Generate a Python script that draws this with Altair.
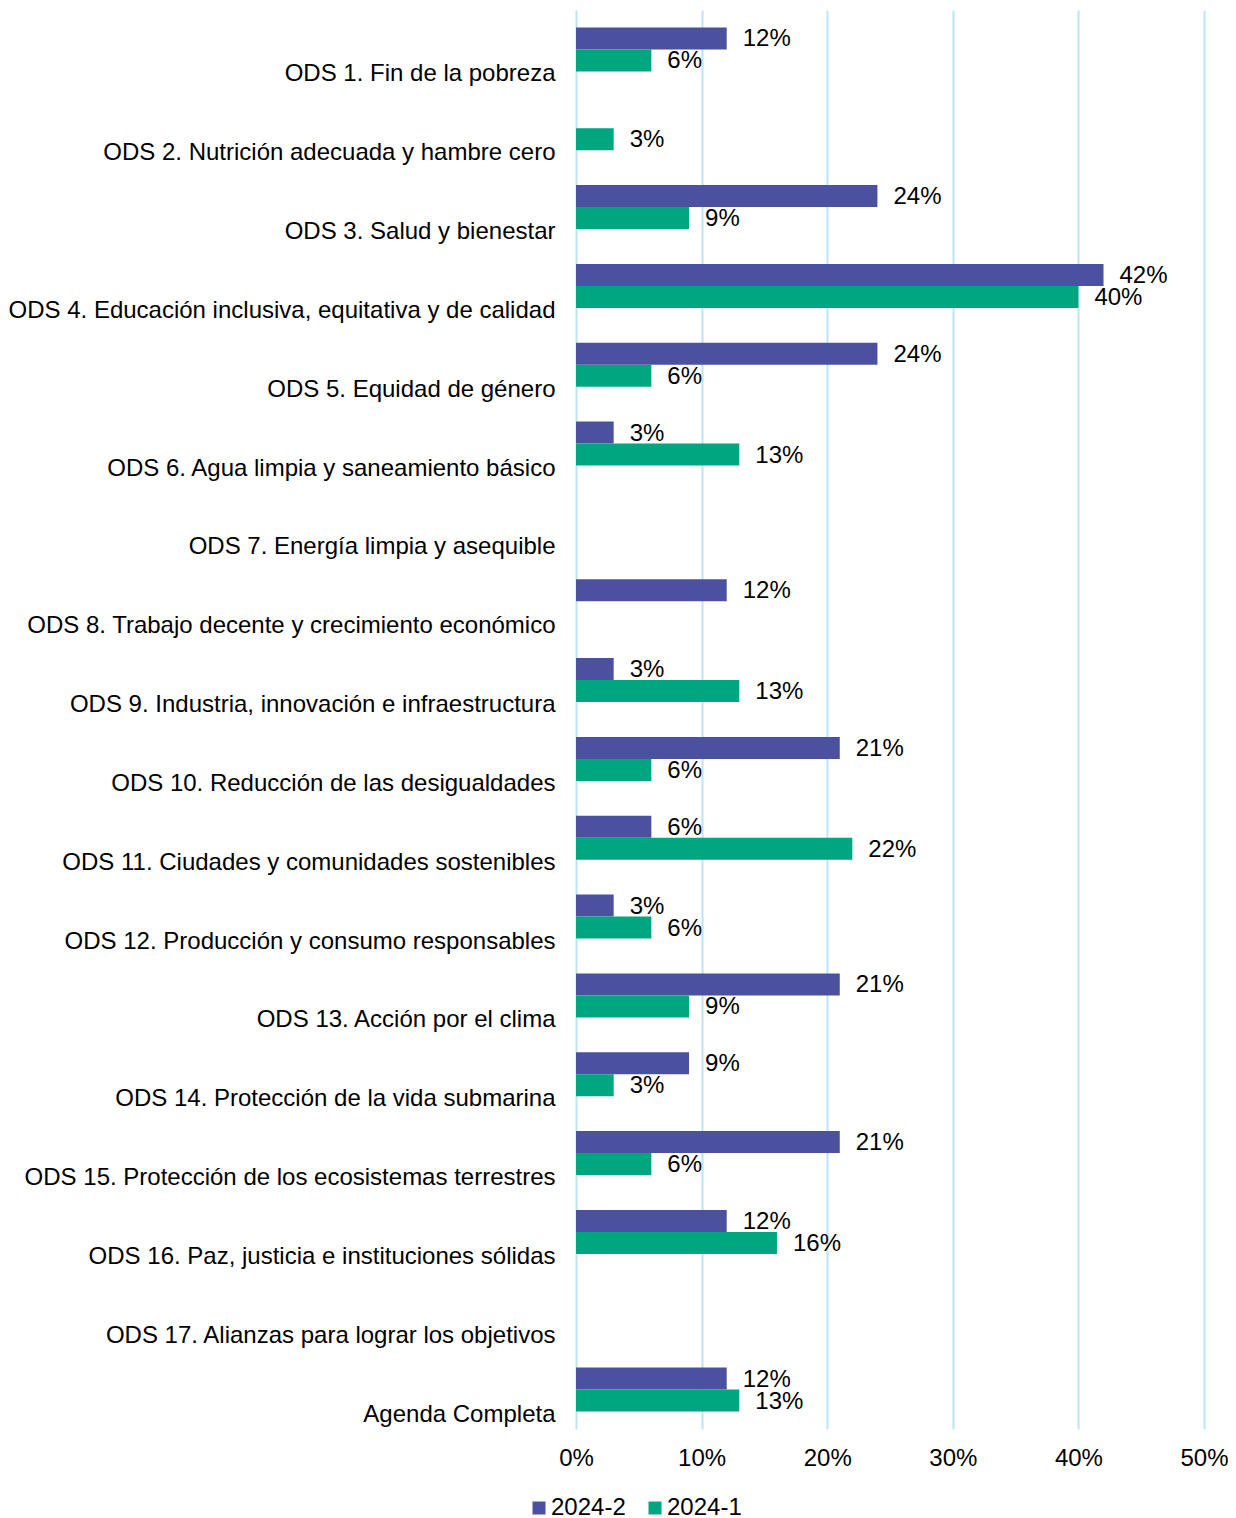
import altair as alt
import pandas as pd

categories = [
    "ODS 1. Fin de la pobreza",
    "ODS 2. Nutrición adecuada y hambre cero",
    "ODS 3. Salud y bienestar",
    "ODS 4. Educación inclusiva, equitativa y de calidad",
    "ODS 5. Equidad de género",
    "ODS 6. Agua limpia y saneamiento básico",
    "ODS 7. Energía limpia y asequible",
    "ODS 8. Trabajo decente y crecimiento económico",
    "ODS 9. Industria, innovación e infraestructura",
    "ODS 10. Reducción de las desigualdades",
    "ODS 11. Ciudades y comunidades sostenibles",
    "ODS 12. Producción y consumo responsables",
    "ODS 13. Acción por el clima",
    "ODS 14. Protección de la vida submarina",
    "ODS 15. Protección de los ecosistemas terrestres",
    "ODS 16. Paz, justicia e instituciones sólidas",
    "ODS 17. Alianzas para lograr los objetivos",
    "Agenda Completa",
]
series_names = ["2024-2", "2024-1"]
values_2024_2 = [12, None, 24, 42, 24, 3, None, 12, 3, 21, 6, 3, 21, 9, 21, 12, None, 12]
values_2024_1 = [6, 3, 9, 40, 6, 13, None, None, 13, 6, 22, 6, 9, 3, 6, 16, None, 13]
colors = ["#4b519f", "#00a67f"]

rows = []
for name, vals in zip(series_names, [values_2024_2, values_2024_1]):
    for cat, v in zip(categories, vals):
        if v is not None:
            rows.append({"cat": cat, "serie": name, "value": v / 100})
df = pd.DataFrame(rows)

FONT = "Liberation Sans"
FS = 24

y_enc = alt.Y("cat:N", sort=categories,
              scale=alt.Scale(domain=categories, paddingInner=0.442, paddingOuter=0.221),
              axis=alt.Axis(title=None, domain=False, ticks=False, labelFontSize=FS,
                            labelFont=FONT, labelColor="#000000", labelPadding=21,
                            labelLimit=700, labelOffset=25, grid=False))
yoff = alt.YOffset("serie:N", scale=alt.Scale(domain=series_names, paddingInner=0, paddingOuter=0))
x_enc = alt.X("value:Q",
              scale=alt.Scale(domain=[0, 0.5], nice=False),
              axis=alt.Axis(title=None, format=".0%", values=[0, 0.1, 0.2, 0.3, 0.4, 0.5],
                            domain=False, ticks=False, grid=True, gridColor="#bde3f7",
                            gridWidth=2, labelFontSize=FS, labelFont=FONT, labelFlush=False,
                            labelColor="#000000", labelPadding=17))

base = alt.Chart(df)

bars = base.mark_bar(opacity=1).encode(
    x=x_enc,
    y=y_enc,
    yOffset=yoff,
    color=alt.Color("serie:N",
                    scale=alt.Scale(domain=series_names, range=colors),
                    legend=alt.Legend(title=None, orient="none", legendX=-49, legendY=1486,
                                      direction="horizontal", symbolType="square",
                                      symbolSize=169, symbolStrokeWidth=0,
                                      labelFontSize=FS, labelFont=FONT, labelColor="#000000",
                                      labelOffset=0, columnPadding=17)),
)

labels = base.transform_calculate(
    lbl="format(datum.value, '.0%')"
).mark_text(align="left", baseline="middle", dx=16, dy=1, fontSize=FS, font=FONT, color="#000000").encode(
    x="value:Q",
    y=alt.Y("cat:N", sort=categories),
    yOffset=yoff,
    text="lbl:N",
)

chart = alt.layer(bars, labels).properties(
    width=628,
    height=1419,
    autosize=alt.AutoSizeParams(type="none"),
    padding={"left": 568, "top": 2, "right": 24, "bottom": 100},
).configure_view(stroke=None)

chart.save("out.html", embed_options={"renderer": "svg", "actions": False})
